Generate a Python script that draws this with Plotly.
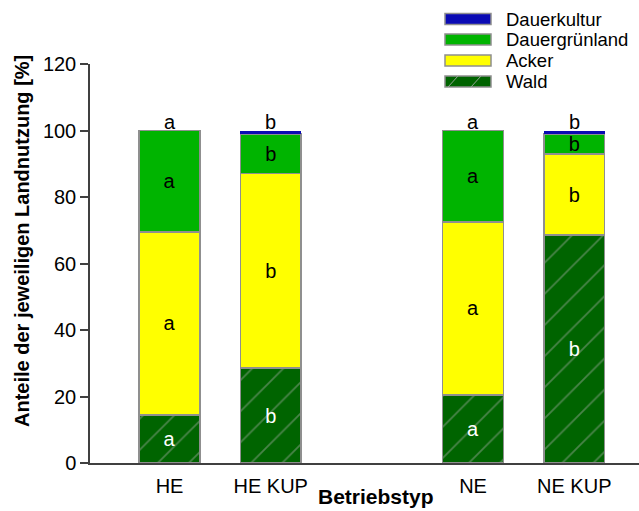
import plotly.graph_objects as go

# Betriebstypen (with an empty slot between the HE and NE groups)
categories = ["HE", "HE KUP", "NE", "NE KUP"]
x_pos = [0, 1, 3, 4]

# Land-use shares in percent
wald = [14.5, 28.5, 20.5, 68.5]
acker = [55.0, 58.5, 52.0, 24.5]
gruenland = [30.5, 12.0, 27.5, 6.0]
dauerkultur = [0.0, 1.0, 0.0, 1.0]

# Significance letters per segment and above each column
letters_wald = ["a", "b", "a", "b"]
letters_acker = ["a", "b", "a", "b"]
letters_gruen = ["a", "b", "a", "b"]
letters_top = ["a", "b", "a", "b"]

FONT = "Liberation Sans, Arial, sans-serif"
FS = 20
EDGE = dict(color="#8f8f8f", width=1.5)
BAR_W = 0.6

fig = go.Figure()

fig.add_trace(go.Bar(
    x=x_pos, y=wald, name="Wald", width=BAR_W,
    marker=dict(color="#006400", line=EDGE,
                pattern=dict(shape="/", fgcolor="#93a493", bgcolor="#006400",
                             size=22, solidity=0.08)),
    text=letters_wald, textposition="inside", insidetextanchor="middle",
    textangle=0, textfont=dict(color="white", size=FS, family=FONT),
))
fig.add_trace(go.Bar(
    x=x_pos, y=acker, name="Acker", width=BAR_W,
    marker=dict(color="#ffff00", line=EDGE),
    text=letters_acker, textposition="inside", insidetextanchor="middle",
    textangle=0, textfont=dict(color="black", size=FS, family=FONT),
))
fig.add_trace(go.Bar(
    x=x_pos, y=gruenland, name="Dauergrünland", width=BAR_W,
    marker=dict(color="#00b400", line=EDGE),
    text=letters_gruen, textposition="inside", insidetextanchor="middle",
    textangle=0, textfont=dict(color="black", size=FS, family=FONT),
))
fig.add_trace(go.Bar(
    x=x_pos, y=dauerkultur, name="Dauerkultur", width=BAR_W,
    marker=dict(color="#0a0ab4", line=dict(color="#0a0ab4", width=0)),
))

# Letters above the columns
totals = [w + a + g + d for w, a, g, d in zip(wald, acker, gruenland, dauerkultur)]
for xp, tot, lt in zip(x_pos, totals, letters_top):
    fig.add_annotation(x=xp, y=tot, text=lt, showarrow=False, yanchor="bottom",
                       yshift=-4, font=dict(size=FS, color="black", family=FONT))

# Hand-drawn legend in the upper right corner (pixel based)
W, H = 639, 511
L, T, B = 90, 64, 48
PW, PH = W - L, H - T - B


def px(xpix):
    return (xpix - L) / PW


def py(ypix):
    return (H - B - ypix) / PH


legend_items = [
    ("Dauerkultur", "#0a0ab4", 19),
    ("Dauergrünland", "#00b400", 39.5),
    ("Acker", "#ffff00", 60.5),
    ("Wald", "#006400", 81.5),
]
for label, col, yc in legend_items:
    fig.add_shape(type="rect", xref="paper", yref="paper",
                  x0=px(445), x1=px(491), y0=py(yc + 5.5), y1=py(yc - 5.5),
                  fillcolor=col, line=dict(color="#8f8f8f", width=1.5))
    fig.add_annotation(xref="paper", yref="paper", x=px(504), y=py(yc),
                       text=label, showarrow=False, xanchor="left", yanchor="middle",
                       font=dict(size=18.5, color="black", family=FONT))
# hatch strokes on the Wald swatch
for x0 in (458, 481):
    fig.add_shape(type="line", xref="paper", yref="paper",
                  x0=px(x0 - 10), y0=py(81.5 + 5.5), x1=px(x0), y1=py(81.5 - 5.5),
                  line=dict(color="#93a493", width=1))

# Axis titles
fig.add_annotation(xref="paper", yref="paper", x=px(376), y=py(497),
                   text="<b>Betriebstyp</b>", showarrow=False,
                   xanchor="center", yanchor="middle",
                   font=dict(size=21, color="black", family=FONT))
fig.add_annotation(xref="paper", yref="paper", x=px(22), y=py(241),
                   text="<b>Anteile der jeweiligen Landnutzung [%]</b>", showarrow=False,
                   textangle=-90, xanchor="center", yanchor="middle",
                   font=dict(size=20, color="black", family=FONT))

fig.update_layout(
    width=W, height=H,
    margin=dict(l=L, r=0, t=T, b=B),
    barmode="stack",
    showlegend=False,
    plot_bgcolor="white", paper_bgcolor="white",
    uniformtext=dict(minsize=FS, mode="show"),
    font=dict(family=FONT, size=FS, color="black"),
)
fig.update_xaxes(
    range=[-0.786, 4.64], tickvals=x_pos, ticktext=categories,
    showline=True, linecolor="#404040", linewidth=1.5,
    ticks="", showgrid=False, zeroline=False, ticklabelstandoff=4,
    tickfont=dict(size=FS, family=FONT, color="black"),
)
fig.update_yaxes(
    range=[0, 120], tickvals=[0, 20, 40, 60, 80, 100, 120],
    showline=True, linecolor="#404040", linewidth=1.5,
    ticks="outside", ticklen=8, tickcolor="#404040", tickwidth=1.5,
    showgrid=False, zeroline=False,
    tickfont=dict(size=FS, family=FONT, color="black"),
)

fig.write_html("out.html")
